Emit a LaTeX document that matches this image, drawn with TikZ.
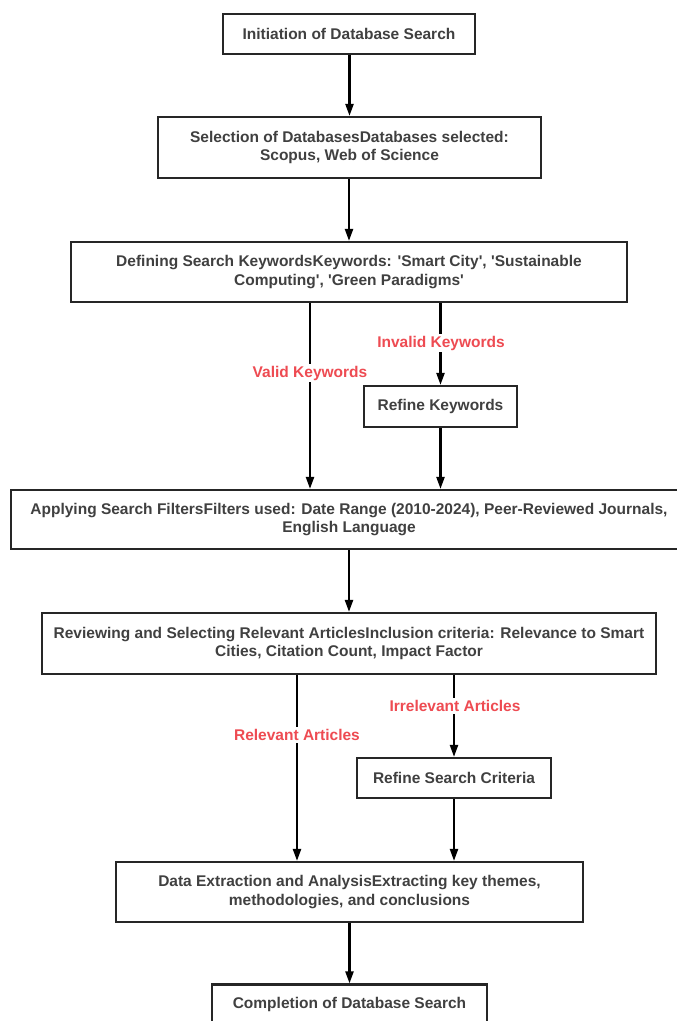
\documentclass[tikz,border=0pt]{standalone}
\usepackage{fontspec}
\setmainfont{Liberation Sans}
\usetikzlibrary{arrows.meta,calc}
\definecolor{txt}{HTML}{404040}
\definecolor{lbl}{HTML}{EE4B52}
\newcommand{\sq}{\textquotesingle}
\begin{document}
\begin{tikzpicture}[x=1pt,y=-1pt,
  box/.style={draw=black!85,line width=2.2pt,rectangle,align=center,inner sep=0pt,
    font=\fontsize{15.5}{18.8}\selectfont\bfseries,text=txt},
  arr/.style={draw=black,line width=2.2pt,-{Triangle[length=12pt,width=8pt]}},
  lab/.style={fill=white,inner sep=2pt,text=lbl,font=\fontsize{15.5}{18.8}\selectfont\bfseries}]
\useasboundingbox (0,0) rectangle (677,1021);
\fill[white] (0,0) rectangle (677,1021);

\node[box,minimum width=252pt,minimum height=40pt] (b1) at (349,34) {Initiation of Database Search};
\node[box,minimum width=383pt,minimum height=61pt] (b2) at (349.5,147.5) {Selection of DatabasesDatabases selected:\\Scopus, Web of Science};
\node[box,minimum width=556pt,minimum height=60pt] (b3) at (349,272) {Defining Search KeywordsKeywords: \sq Smart City\sq, \sq Sustainable\\Computing\sq, \sq Green Paradigms\sq};
\node[box,minimum width=153pt,minimum height=41pt] (rk) at (440.5,406.5) {Refine Keywords};
\node[box,minimum width=676pt,minimum height=59pt] (b4) at (349,519.5) {Applying Search FiltersFilters used: Date Range (2010-2024), Peer-Reviewed Journals,\\English Language};
\node[box,minimum width=614pt,minimum height=61pt] (b5) at (349,643.5) {Reviewing and Selecting Relevant ArticlesInclusion criteria: Relevance to Smart\\Cities, Citation Count, Impact Factor};
\node[box,minimum width=194pt,minimum height=40pt] (rs) at (454,778) {Refine Search Criteria};
\node[box,minimum width=467pt,minimum height=60pt] (b6) at (349.5,892) {Data Extraction and AnalysisExtracting key themes,\\methodologies, and conclusions};
\node[box,minimum width=275pt,minimum height=40pt] (b7) at (349.5,1004.5) {Completion of Database Search};

\coordinate (vx) at (310,0);
\coordinate (rx) at (297,0);

\draw[arr] (b1.south -| b2) -- (b2.north);
\draw[arr] (b2.south -| b3) -- (b3.north);
\draw[arr] (b3.south -| vx) -- (b4.north -| vx);
\draw[arr] (b3.south -| rk) -- (rk.north);
\draw[arr] (rk.south) -- (b4.north -| rk);
\draw[arr] (b4.south -| b5) -- (b5.north -| b4);
\draw[arr] (b5.south -| rx) -- (b6.north -| rx);
\draw[arr] (b5.south -| rs) -- (rs.north);
\draw[arr] (rs.south) -- (b6.north -| rs);
\draw[arr] (b6.south -| b7) -- (b7.north);

\node[lab] (l1) at (441,343) {Invalid Keywords};
\node[lab] (l2) at (310,373) {Valid Keywords};
\node[lab] (l3) at (455,706) {Irrelevant Articles};
\node[lab] (l4) at (297,735) {Relevant Articles};
\end{tikzpicture}
\end{document}
